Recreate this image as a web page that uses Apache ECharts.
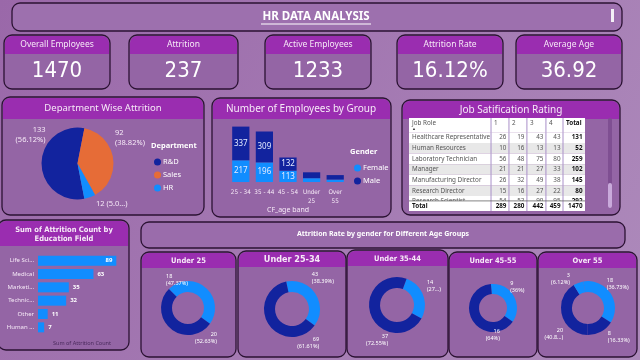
<!DOCTYPE html>
<html><head><meta charset="utf-8">
<script src="https://cdn.jsdelivr.net/npm/echarts@6/dist/echarts.min.js"></script>
<style>html,body{margin:0;padding:0;width:640px;height:360px;overflow:hidden;background:#a47cb2}#c{width:640px;height:360px}</style>
</head><body><div id="c"></div>
<script>
// ---------------- data ----------------
const kpiLabels = ['Overall Employees','Attrition','Active Employees','Attrition Rate','Average Age'];
const kpiValues = ['1470','237','1233','16.12%','36.92'];

const deptNames = ['R&D','Sales','HR'];
const deptAttrition = [133, 92, 12];

const ageBands = ['25 - 34','35 - 44','45 - 54','Under 25','Over 55'];
const femaleCounts = [217, 196, 113, 38, 24];
const maleCounts = [337, 309, 132, 59, 45];

const satHeaders = ['Job Role','1','2','3','4','Total'];
const jobRoles = ['Healthcare Representative','Human Resources','Laboratory Technician','Manager','Manufacturing Director','Research Director','Research Scientist'];
const sat1 = [26, 10, 56, 21, 26, 15, 54];
const sat2 = [19, 16, 48, 21, 32, 16, 53];
const sat3 = [43, 13, 75, 27, 49, 27, 90];
const sat4 = [43, 13, 80, 33, 38, 22, 95];
const satRowTotals = [131, 52, 259, 102, 145, 80, 292];
const satColTotals = [289, 280, 442, 459, 1470];

const eduFields = ['Life Sci...','Medical','Marketi...','Technic...','Other','Human ...'];
const eduAttrition = [89, 63, 35, 32, 11, 7];

const donutTitles = ['Under 25','Under 25-34','Under 35-44','Under 45-55','Over 55'];
const donutValues = [[18, 20], [43, 69], [14, 37], [9, 16], [18, 8, 20, 3]];
const donutGender = [['Female','Male'], ['Female','Male'], ['Female','Male'], ['Female','Male'], ['Female','Male','Male','Female']];

// ---------------- style ----------------
const C_LIGHT = '#118DFF', C_DARK = '#12239E', C_ORANGE = '#E66C37';
const CARD = '#9465a5', HEAD = '#9a2db0', BORDER = '#2b1233';
const TXT = '#f6e9f7';
const SANS = "'Noto Sans', 'Open Sans', sans-serif";
const COND = "'DejaVu Sans Condensed', 'Liberation Sans Narrow', sans-serif";

const graphics = [];
graphics.push({type:'rect', shape:{x:0,y:0,width:640,height:360}, z:-20, silent:true,
  style:{fill:{type:'linear',x:0,y:0,x2:1,y2:1,colorStops:[{offset:0,color:'#9a68a9'},{offset:1,color:'#ad8abb'}]}}});
function card(x, y, w, h, hh, fill){
  graphics.push({type:'rect', shape:{x:x,y:y,width:w,height:h,r:8}, style:{fill:fill||CARD}, z:-10, silent:true});
  if (hh) graphics.push({type:'rect', shape:{x:x+1,y:y+1,width:w-2,height:hh,r:[7,7,0,0]}, style:{fill:HEAD}, z:-9, silent:true});
  graphics.push({type:'rect', shape:{x:x,y:y,width:w,height:h,r:8}, style:{fill:null, stroke:BORDER, lineWidth:1.3}, z:-8, silent:true});
}
function text(x, y, s, font, color, align){
  graphics.push({type:'text', x:x, y:y, z:5, silent:true,
    style:{text:s, font:font, fill:color||TXT, textAlign:align||'center', align:align||'center', textVerticalAlign:'middle', verticalAlign:'middle'}});
}

// title bar
card(12, 3, 610, 28, 0, '#9d70ae');
text(316, 17, 'HR DATA ANALYSIS', 'bold 11.5px ' + SANS, '#ffffff');
graphics.push({type:'line', shape:{x1:261,y1:24,x2:371,y2:24}, style:{stroke:'#ffffff', lineWidth:1}, z:5, silent:true});
graphics.push({type:'rect', shape:{x:611,y:9,width:3,height:13}, style:{fill:'#f4f0f6'}, z:5, silent:true});

// KPI cards
const kpiBoxes = [[4,106],[129,109],[265,106],[397,106],[516,106]];
kpiLabels.forEach((lab, i) => {
  const [x, w] = kpiBoxes[i];
  card(x, 35, w, 54, 18);
  text(x + w/2, 45, lab, '8.5px ' + SANS, TXT);
  text(x + w/2, 71, kpiValues[i], '22px ' + COND, '#ffffff');
});

// middle cards
card(2, 97, 202, 118, 21);
text(103, 108, 'Department Wise Attrition', '9.5px ' + SANS, TXT);
text(151, 146, 'Department', 'bold 7.5px ' + SANS, '#ffffff', 'left');

card(212, 98, 179, 119, 20);
text(301, 109, 'Number of Employees by Group', '10px ' + SANS, TXT);
text(350, 152, 'Gender', 'bold 7.5px ' + SANS, '#ffffff', 'left');

card(402, 100, 218, 115, 18);
text(511, 110, 'Job Satification Rating', '10px ' + SANS, TXT);
graphics.push({type:'rect', shape:{x:608,y:118,width:4,height:90,r:2}, style:{fill:'#7f4f92'}, z:-5, silent:true});
graphics.push({type:'rect', shape:{x:608,y:183,width:4,height:25,r:2}, style:{fill:'#c9aadb'}, z:-4, silent:true});

// bottom left card
card(-2, 220, 131, 130, 25);
text(64, 230, 'Sum of Attrition Count by', 'bold 7.5px ' + COND, TXT);
text(64, 239, 'Education Field', 'bold 7.5px ' + COND, TXT);

// banner
card(141, 222, 484, 26, 0, '#9a6cab');
text(383, 234, 'Attrition Rate by gender for Different Age Groups', 'bold 7px ' + SANS, '#ffffff');

// donut cards
const donutBoxes = [[141,252,95],[238,251,108],[347,250,101],[449,252,88],[538,252,99]];
const donutCenters = [[188,308],[292,309],[397,305],[493,308],[588,308]];
const donutRadius = [[16,27],[17,28],[17,28],[14,24],[16,27]];
const donutStart = [135, 102, 70, 95, 100];
const donutTrunc = {'2-0':2, '4-2':4};
const donutLabelShift = [
  [[-47,-4],[54,6]],
  [[-12,-14],[59,17]],
  [[-5,-8],[26,24]],
  [[-12,-7],[36,13]],
  [[-12,-7],[0,2],[10,18],[-2,0]]
];
const deptLabelShift = [[12,-29],[-6,-19],[0,4]];
donutTitles.forEach((t, i) => {
  const [x, y, w] = donutBoxes[i];
  card(x, y, w, 357 - y, 15);
  text(x + w/2, y + 9, t, 'bold ' + (i === 1 ? '9px ' : '7.5px ') + COND, TXT);
});

// ---------------- series ----------------
const series = [];

// department pie
series.push({
  type:'pie', center:[77.5,163.5], radius:36, startAngle:-79, clockwise:true,
  percentPrecision:2, avoidLabelOverlap:false,
  data: deptNames.map((n, i) => ({name:n, value:deptAttrition[i]})),
  color:[C_DARK, C_ORANGE, C_LIGHT],
  label:{show:true, position:'outside', color:TXT, fontSize:7.5, fontFamily:SANS, lineHeight:10,
    formatter: p => p.dataIndex === 2 ? p.value + ' (' + String(p.percent).slice(0,3) + '...)' : p.value + '\n(' + p.percent.toFixed(2) + '%)'},
  labelLine:{show:false, length:3, length2:0},
  labelLayout: p => ({dx:deptLabelShift[p.dataIndex][0], dy:deptLabelShift[p.dataIndex][1]}),
  emphasis:{disabled:true}
});

// stacked bars
const barLabel = {show:true, position:'inside', color:'#e4eaff', fontSize:8, fontFamily:SANS, formatter:p => p.value >= 100 ? p.value : ''};
series.push({type:'bar', name:'Female', stack:'g', xAxisIndex:0, yAxisIndex:0, data:femaleCounts, color:C_LIGHT,
  barCategoryGap:'27%', label:barLabel});
series.push({type:'bar', name:'Male', stack:'g', xAxisIndex:0, yAxisIndex:0, data:maleCounts, color:C_DARK,
  barCategoryGap:'27%', label:barLabel});

// education bars
const eduMax = Math.max(...eduAttrition);
series.push({type:'bar', name:'Edu', xAxisIndex:1, yAxisIndex:1, color:C_LIGHT, barCategoryGap:'25%',
  data: eduAttrition.map(v => ({value:v, label:{position: v === eduMax ? 'insideRight' : 'right'}})),
  label:{show:true, color:'#ffffff', fontSize:6, fontWeight:'bold', fontFamily:SANS, distance:4}});

// table
const colFrac = [0, 0.466, 0.568, 0.67, 0.778, 0.875, 1.0];
const tableRows = [];
for (let r = 0; r < jobRoles.length + 2; r++) tableRows.push([0.5, r]);
series.push({
  type:'custom', xAxisIndex:2, yAxisIndex:2, clip:true, data:tableRows,
  renderItem: (params, api) => {
    const r = api.value(1);
    const cs = params.coordSys;
    const nRoles = jobRoles.length;
    let y0, y1, cells, bg = '#ffffff', header = false, isTotal = false;
    if (r === 0) { y0 = -1.35; y1 = 0; cells = satHeaders; header = true; }
    else if (r === nRoles + 1) { y0 = 6.45; y1 = 7.4; cells = ['Total'].concat(satColTotals); isTotal = true; }
    else { const i = r - 1; y0 = i; y1 = i + 1; cells = [jobRoles[i], sat1[i], sat2[i], sat3[i], sat4[i], satRowTotals[i]]; if (i % 2 === 1) bg = '#e8e8e8'; }
    const top = api.coord([0, y0])[1], bot = api.coord([0, y1])[1];
    const xs = colFrac.map(f => cs.x + f * cs.width);
    const z2 = isTotal ? 50 : 10;
    const ch = [{type:'rect', shape:{x:cs.x, y:top, width:cs.width, height:bot - top}, style:{fill:bg}, z2:z2}];
    for (let c = 1; c < 6; c++) ch.push({type:'line', shape:{x1:xs[c], y1:top, x2:xs[c], y2:bot}, style:{stroke:'#a98fc9', lineWidth:1}, z2:z2+1});
    if (isTotal) ch.push({type:'line', shape:{x1:cs.x, y1:top, x2:cs.x + cs.width, y2:top}, style:{stroke:'#666', lineWidth:0.8}, z2:z2+1});
    cells.forEach((t, c) => {
      const strong = (c === 5 || isTotal);
      let x, align;
      if (header || c === 0) { x = xs[c] + 3; align = 'left'; }
      else { x = xs[c + 1] - 2.5; align = 'right'; }
      const ty = header ? top + 5 : (top + bot) / 2;
      ch.push({type:'text', z2:z2+2, style:{text:String(t), x:x, y:ty, fill: strong ? '#111' : '#555',
        font: (strong ? 'bold ' : '') + '6.3px ' + SANS, textAlign:align, align:align, textVerticalAlign:'middle', verticalAlign:'middle'}});
    });
    if (header) ch.push({type:'text', z2:z2+2, style:{text:'\u25B2', x:xs[0] + 3, y:bot - 3, fill:'#333', font:'4px ' + SANS, textAlign:'left', align:'left', textVerticalAlign:'middle', verticalAlign:'middle'}});
    return {type:'group', children:ch};
  }
});

// donuts
donutValues.forEach((vals, i) => {
  series.push({
    type:'pie', center:donutCenters[i], radius:donutRadius[i], startAngle:donutStart[i], percentPrecision:2,
    avoidLabelOverlap:false,
    data: vals.map((v, j) => {
      const tr = donutTrunc[i + '-' + j];
      return {name:donutGender[i][j], value:v,
        itemStyle:{color: donutGender[i][j] === 'Female' ? C_LIGHT : C_DARK},
        label:{formatter: p => p.value + '\n(' + (tr ? String(p.percent).slice(0, tr) + '...' : String(p.percent) + '%') + ')'}};
    }),
    label:{show:true, position:'outside', color:'#ffffff', fontSize:5.5, fontFamily:SANS, lineHeight:7},
    labelLine:{show:false, length:4, length2:0},
    labelLayout: p => ({dx:donutLabelShift[i][p.dataIndex][0], dy:donutLabelShift[i][p.dataIndex][1]}),
    emphasis:{disabled:true}
  });
});

const option = {
  animation:false,
  graphic:{elements:graphics},
  grid:[
    {left:229, top:122, width:118, height:60},
    {left:38, top:254, width:88, height:80},
    {left:409, top:118, width:176, height:93}
  ],
  xAxis:[
    {gridIndex:0, type:'category', data:ageBands, axisLine:{show:false}, axisTick:{show:false},
      axisLabel:{color:TXT, fontSize:6.3, fontFamily:COND, interval:0, margin:6, lineHeight:9,
        formatter: v => (v.indexOf('Under') === 0 || v.indexOf('Over') === 0) ? v.replace(' ', '\n') : v},
      name:'CF_age band', nameLocation:'middle', nameGap:24, nameTextStyle:{color:TXT, fontSize:7, fontFamily:SANS}},
    {gridIndex:1, type:'value', max:100, axisLine:{show:false}, axisTick:{show:false}, axisLabel:{show:false}, splitLine:{show:false},
      name:'Sum of Attrition Count', nameLocation:'middle', nameGap:6, nameTextStyle:{color:'#4a2a5c', fontSize:5.5, fontFamily:SANS}},
    {gridIndex:2, type:'value', min:0, max:1, show:false}
  ],
  yAxis:[
    {gridIndex:0, type:'value', max:600, show:false},
    {gridIndex:1, type:'category', data:eduFields, inverse:true, axisLine:{show:false}, axisTick:{show:false},
      axisLabel:{color:TXT, fontSize:6, fontFamily:SANS, margin:4}},
    {gridIndex:2, type:'value', min:-1.35, max:7.4, inverse:true, show:false}
  ],
  legend:[
    {data:deptNames, orient:'vertical', left:149, top:153, itemWidth:7, itemHeight:7, itemGap:5, icon:'circle',
      textStyle:{color:'#ffffff', fontSize:7.5, fontFamily:SANS, padding:[0,0,0,-3]}, selectedMode:false},
    {data:['Female','Male'], orient:'vertical', left:349, top:159, itemWidth:7, itemHeight:7, itemGap:5, icon:'circle',
      textStyle:{color:'#ffffff', fontSize:7.5, fontFamily:SANS, padding:[0,0,0,-3]}, selectedMode:false}
  ],
  series:series
};
const chart = echarts.init(document.getElementById('c'));
chart.setOption(option);
</script>
</body></html>
